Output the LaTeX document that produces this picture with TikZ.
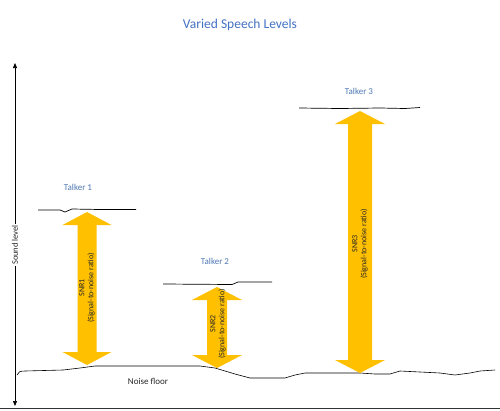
\documentclass[tikz,border=0pt]{standalone}
\usepackage{fontspec}
\setmainfont{Carlito}
\usetikzlibrary{arrows.meta}
\definecolor{titleblue}{HTML}{4472C4}
\definecolor{talkblue}{HTML}{4F79B5}
\definecolor{gold}{HTML}{FFC000}
\definecolor{txt}{HTML}{262626}
\newcommand{\snrarrowshape}[5]{% x center, top tip y, bottom tip y, shaft half width, head half width
  \fill[gold] (#1,#2) -- (#1+#5,#2+13) -- (#1+#4,#2+13) -- (#1+#4,#3-13) -- (#1+#5,#3-13)
    -- (#1,#3) -- (#1-#5,#3-13) -- (#1-#4,#3-13) -- (#1-#4,#2+13) -- (#1-#5,#2+13) -- cycle;}
\begin{document}
\begin{tikzpicture}[x=1pt,y=-1pt,
  talker/.style={font=\fontsize{9}{10}\selectfont, text=talkblue},
  snrlabel/.style={font=\fontsize{8}{9}\selectfont, text=txt, rotate=90, align=center, inner sep=0pt},
  level/.style={line width=0.7pt, black},
  axis/.style={line width=0.7pt, black, {Triangle[length=5pt,width=4pt]}-{Triangle[length=5pt,width=4pt]}}]
\useasboundingbox (0,0) rectangle (500,410);
\fill[white] (0,0) rectangle (500,410);

\node[font=\fontsize{13.5}{15}\selectfont, text=titleblue] (title) at (240,25) {Varied Speech Levels};

% axis
\coordinate (axtop) at (15,63);
\coordinate (axbot) at (15,406);
\draw[axis] (axtop) -- (axbot);
\node[fill=white, rotate=90, inner sep=1pt, font=\fontsize{8.5}{9}\selectfont, text=txt] (sound) at (15,245) {Sound level};

% bottom rule
\coordinate (bl) at (0,408.5);
\coordinate (br) at (500,408.5);
\draw[line width=0.8pt, black!80] (bl) -- (br);

% noise floor
\draw[level, line width=0.6pt] (17,375) .. controls (18,372) and (20,371) .. (25,371)
  -- (63,370) -- (80,368) -- (95,366) -- (200,366) -- (215,368) -- (235,374) -- (250,378)
  -- (285,378) -- (295,375) -- (305,373) -- (360,373) -- (375,374) -- (390,374)
  -- (400,371) -- (420,372) -- (440,373) -- (455,375) -- (470,373) -- (480,371) -- (495,370);
\node[font=\fontsize{9}{10}\selectfont, text=txt] (noise) at (148,381) {Noise floor};

% talker levels
\node[talker] (t1) at (78,187) {Talker 1};
\draw[level] (38,210) -- (60,210) -- (65,212) -- (72,209) -- (100,209.5) -- (136,209.5);
\node[talker] (t2) at (215,261) {Talker 2};
\draw[level] (163,284) -- (232,284.5) -- (238,282) -- (272,282);
\node[talker] (t3) at (359,91) {Talker 3};
\draw[level] (299,108) -- (340,108.5) -- (380,108) -- (405,108.5) -- (420,107.5);

% SNR arrows
\snrarrowshape{87}{212}{365}{9.5}{24.5}
\node[snrlabel] (snr1) at (87,288) {SNR1\\(Signal-to-noise ratio)};
\snrarrowshape{217}{287}{368}{10}{25}
\node[snrlabel] (snr2) at (218,324) {SNR2\\(Signal-to-noise ratio)};
\snrarrowshape{360}{111}{373}{12}{25}
\node[snrlabel] (snr3) at (360,244) {SNR3\\(Signal-to-noise ratio)};
\end{tikzpicture}
\end{document}
